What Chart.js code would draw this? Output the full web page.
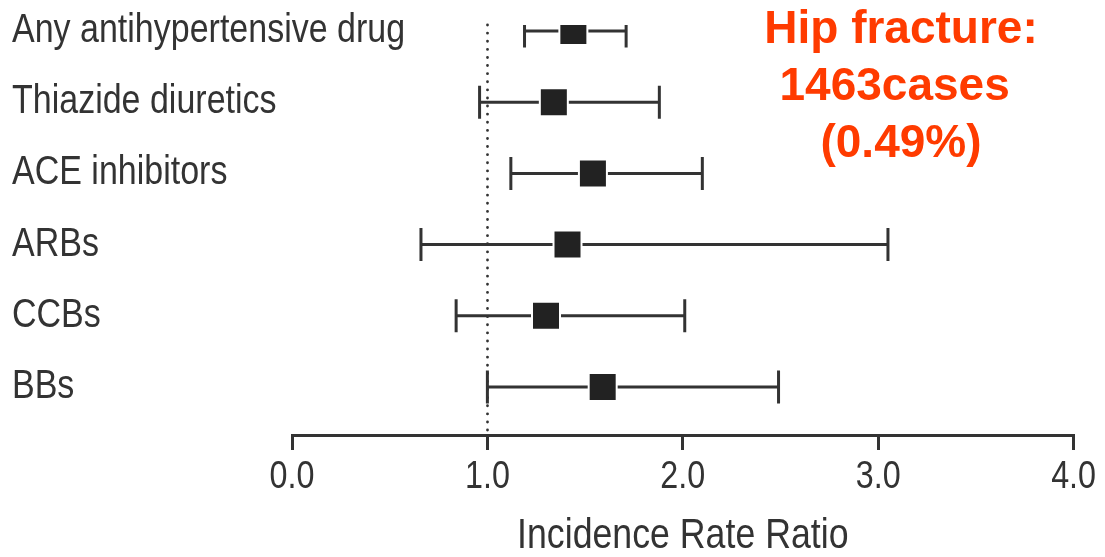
<!DOCTYPE html>
<html>
<head>
<meta charset="utf-8">
<script src="https://cdn.jsdelivr.net/npm/chart.js@4"></script>
<style>
  html, body { margin: 0; padding: 0; background: #fff; }
  #wrap { position: relative; width: 1105px; height: 557px; overflow: hidden; }
  #note {
    position: absolute; left: 701px; top: -1px; width: 400px;
    text-align: center; color: #FF3B00;
    font-family: "Liberation Sans", Arial, sans-serif; font-weight: bold;
    font-size: 46px; line-height: 57px; white-space: pre;
  }
</style>
</head>
<body>
<div id="wrap">
  <canvas id="c" width="1105" height="557"></canvas>
  <div id="note">Hip fracture:<br>1463cases&nbsp;<br>(0.49%)</div>
</div>
<script>
// ---- data ----
const rowLabels = ['Any antihypertensive drug', 'Thiazide diuretics', 'ACE inhibitors', 'ARBs', 'CCBs', 'BBs'];
const irr    = [1.44, 1.34, 1.54, 1.41, 1.30, 1.59];
const ciLow  = [1.19, 0.96, 1.12, 0.66, 0.84, 1.00];
const ciHigh = [1.71, 1.88, 2.10, 3.05, 2.01, 2.49];
const xTicks = [0, 1, 2, 3, 4];
const refLine = 1.0;
const xTitle = 'Incidence Rate Ratio';

const FONT = '"Liberation Sans", Arial, sans-serif';
const INK = '#333333';
const CONDENSE = 0.85;   // horizontal squeeze to imitate a condensed face

const whiskerData = rowLabels.flatMap((_, i) => [
  { x: ciLow[i], y: i }, { x: ciHigh[i], y: i }, { x: NaN, y: NaN }
]);
const capData = rowLabels.flatMap((_, i) => [{ x: ciLow[i], y: i }, { x: ciHigh[i], y: i }]);
const pointData = rowLabels.map((_, i) => ({ x: irr[i], y: i }));

const refLinePlugin = {
  id: 'refLine',
  beforeDatasetsDraw(chart) {
    const { ctx, chartArea, scales } = chart;
    const x = Math.round(scales.x.getPixelForValue(refLine)) + 0.5;
    ctx.save();
    ctx.strokeStyle = '#333';
    ctx.lineWidth = 2.8;
    ctx.lineCap = 'round';
    ctx.setLineDash([0.1, 8]);
    ctx.beginPath();
    ctx.moveTo(x, chartArea.top);
    ctx.lineTo(x, chartArea.bottom);
    ctx.stroke();
    ctx.restore();
  }
};

// draw all chart text horizontally condensed around its own anchor
const condensePlugin = {
  id: 'condense',
  beforeDraw(chart) {
    const ctx = chart.ctx;
    if (ctx._origFillText) return;
    const orig = ctx.fillText;
    ctx._origFillText = orig;
    ctx.fillText = function (text, x, y) {
      this.save();
      this.translate(x, y);
      this.scale(CONDENSE, 1);
      orig.call(this, text, 0, 0);
      this.restore();
    };
  },
  afterDraw(chart) {
    const ctx = chart.ctx;
    if (ctx._origFillText) { ctx.fillText = ctx._origFillText; delete ctx._origFillText; }
  }
};

const yMin = -0.084, yMax = 5.674;

new Chart(document.getElementById('c'), {
  type: 'scatter',
  data: {
    datasets: [
      {
        label: 'IRR', data: pointData, order: 0,
        pointStyle: 'rect', pointRadius: 19.8, pointHoverRadius: 19.8,
        backgroundColor: '#222', borderColor: '#fff', borderWidth: 2, pointBorderWidth: 2
      },
      {
        label: 'caps', data: capData, order: 1,
        pointStyle: 'line', rotation: 90, pointRadius: 16.5, pointHoverRadius: 16.5,
        borderColor: INK, borderWidth: 3, pointBorderWidth: 3
      },
      {
        label: 'CI', data: whiskerData, order: 2, showLine: true, spanGaps: false,
        borderColor: INK, borderWidth: 3, pointRadius: 0, pointHoverRadius: 0
      }
    ]
  },
  options: {
    responsive: false,
    animation: false,
    events: [],
    layout: { padding: { left: 12, top: 25, right: 29, bottom: 0 } },
    plugins: { legend: { display: false }, tooltip: { enabled: false } },
    scales: {
      x: {
        type: 'linear', min: xTicks[0], max: xTicks[xTicks.length - 1],
        afterBuildTicks: (s) => { s.ticks = xTicks.map(v => ({ value: v })); },
        afterFit: (s) => { s.height = 122; },
        grid: { drawOnChartArea: false, drawTicks: true, tickLength: 15, color: INK, lineWidth: 3 },
        border: { display: true, color: INK, width: 3 },
        ticks: {
          color: INK, padding: 5,
          font: { family: FONT, size: 38 },
          callback: (v) => Number(v).toFixed(1)
        },
        title: {
          display: true, text: xTitle, color: INK,
          font: { family: FONT, size: 42, lineHeight: 1.0 },
          padding: { top: 0, bottom: 0 }
        }
      },
      y: {
        type: 'linear', position: 'left', weight: 0, reverse: true, min: yMin, max: yMax,
        afterBuildTicks: (s) => { s.ticks = rowLabels.map((_, i) => ({ value: i })); },
        afterFit: (s) => { s.width = 280; },
        grid: { display: false, drawTicks: false },
        border: { display: false },
        ticks: { display: false }
      },
      yl: {
        type: 'linear', position: 'left', weight: 5, reverse: true, min: yMin, max: yMax,
        afterBuildTicks: (s) => { s.ticks = rowLabels.map((_, i) => ({ value: i })); },
        afterFit: (s) => { s.width = 0; },
        grid: { display: false, drawTicks: false },
        border: { display: false },
        ticks: {
          color: INK, mirror: true, padding: 0,
          font: { family: FONT, size: 40 },
          callback: (v) => rowLabels[v]
        }
      }
    }
  },
  plugins: [refLinePlugin, condensePlugin]
});
</script>
</body>
</html>
